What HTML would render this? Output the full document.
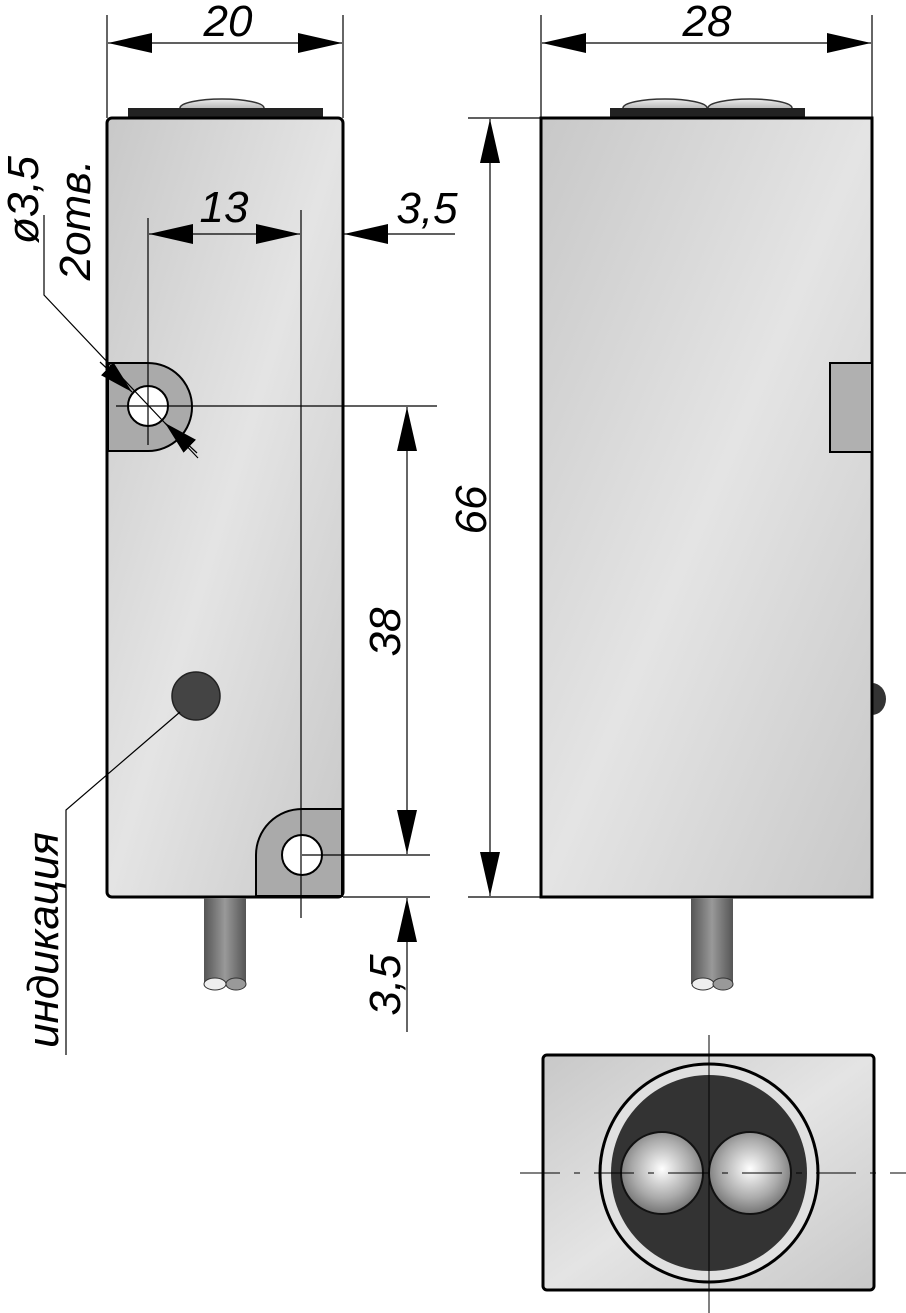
<!DOCTYPE html>
<html><head><meta charset="utf-8"><style>
html,body{margin:0;padding:0;background:#fff;}
svg{display:block}
text{font-family:"Liberation Sans",sans-serif;font-style:italic;fill:#000}
</style></head><body>
<svg width="906" height="1313" viewBox="0 0 906 1313" xmlns="http://www.w3.org/2000/svg">
<defs>
<linearGradient id="bg" x1="0" y1="0" x2="1" y2="1">
<stop offset="0" stop-color="#c8c8c8"/><stop offset="0.5" stop-color="#e4e4e4"/><stop offset="1" stop-color="#c8c8c8"/>
</linearGradient>
<radialGradient id="lens" cx="0.5" cy="0.45" r="0.6">
<stop offset="0" stop-color="#fff"/><stop offset="0.6" stop-color="#aaa"/><stop offset="1" stop-color="#666"/>
</radialGradient>
<linearGradient id="cab" x1="0" x2="1"><stop offset="0" stop-color="#555"/><stop offset="0.5" stop-color="#999"/><stop offset="1" stop-color="#555"/></linearGradient>
<linearGradient id="dome" x1="0" y1="0" x2="0" y2="1"><stop offset="0" stop-color="#eee"/><stop offset="1" stop-color="#888"/></linearGradient>
<marker id="a" viewBox="0 0 44 20" refX="44" refY="10" markerWidth="44" markerHeight="20" markerUnits="userSpaceOnUse" orient="auto-start-reverse"><path d="M0,0 L44,10 L0,20z" fill="#000"/></marker>
<marker id="b" viewBox="0 0 34 18" refX="34" refY="9" markerWidth="34" markerHeight="18" markerUnits="userSpaceOnUse" orient="auto-start-reverse"><path d="M0,0 L34,9 L0,18z" fill="#000"/></marker>
</defs>

<!-- LEFT VIEW -->
<ellipse cx="222" cy="108" rx="42" ry="9" fill="url(#dome)" stroke="#333" stroke-width="1.5"/>
<rect x="128" y="108" width="195" height="10" fill="#222"/>
<rect x="107" y="118" width="236" height="779" rx="5" fill="url(#bg)" stroke="#000" stroke-width="3"/>
<path d="M108,363 H148 A44,44 0 0 1 148,451 H108 Z" fill="#aaa" stroke="#000" stroke-width="2"/>
<circle cx="148" cy="406" r="20" fill="#fff" stroke="#000" stroke-width="2"/>
<path d="M342,809 H302 A46,46 0 0 0 256,855 V896 H342 Z" fill="#aaa" stroke="#000" stroke-width="2"/>
<circle cx="302" cy="855" r="20" fill="#fff" stroke="#000" stroke-width="2"/>
<circle cx="196" cy="696" r="24" fill="#444" stroke="#222" stroke-width="1.5"/>
<rect x="204" y="898" width="42" height="86" fill="url(#cab)"/>
<ellipse cx="215" cy="984" rx="11" ry="6" fill="#eee" stroke="#333"/>
<ellipse cx="236" cy="984" rx="10" ry="6" fill="#999" stroke="#333"/>

<!-- RIGHT VIEW -->
<ellipse cx="665" cy="108" rx="42" ry="9" fill="url(#dome)" stroke="#333" stroke-width="1.5"/>
<ellipse cx="750" cy="108" rx="42" ry="9" fill="url(#dome)" stroke="#333" stroke-width="1.5"/>
<rect x="610" y="108" width="195" height="10" fill="#222"/>
<path d="M872,683 A14,16 0 0 1 872,715 Z" fill="#333"/>
<rect x="541" y="118" width="331" height="779" fill="url(#bg)" stroke="#000" stroke-width="3"/>
<rect x="830" y="363" width="42" height="89" fill="#b0b0b0" stroke="#000" stroke-width="2"/>
<rect x="691" y="898" width="42" height="86" fill="url(#cab)"/>
<ellipse cx="703" cy="984" rx="11" ry="6" fill="#eee" stroke="#333"/>
<ellipse cx="723" cy="984" rx="10" ry="6" fill="#999" stroke="#333"/>

<!-- BOTTOM VIEW -->
<rect x="543" y="1055" width="331" height="235" rx="4" fill="url(#bg)" stroke="#000" stroke-width="3"/>
<circle cx="709" cy="1173" r="109" fill="#e0e0e0" stroke="#000" stroke-width="3"/>
<circle cx="709" cy="1173" r="98" fill="#333"/>
<circle cx="662" cy="1173" r="41" fill="url(#lens)" stroke="#111" stroke-width="2"/>
<circle cx="750" cy="1173" r="41" fill="url(#lens)" stroke="#111" stroke-width="2"/>
<line x1="709" y1="1035" x2="709" y2="1313" stroke="#000" stroke-width="1"/>
<line x1="520" y1="1173" x2="906" y2="1173" stroke="#000" stroke-width="1" stroke-dasharray="40,14,6,14"/>

<!-- DIMENSIONS -->
<g stroke="#000" stroke-width="1.2" fill="none">
<line x1="107" y1="15" x2="107" y2="118"/><line x1="343" y1="15" x2="343" y2="118"/>
<line x1="108" y1="43" x2="342" y2="43" marker-start="url(#a)" marker-end="url(#a)"/>
<line x1="541" y1="15" x2="541" y2="118"/><line x1="872" y1="15" x2="872" y2="118"/>
<line x1="542" y1="43" x2="871" y2="43" marker-start="url(#a)" marker-end="url(#a)"/>
<line x1="148" y1="218" x2="148" y2="445"/><line x1="301" y1="210" x2="301" y2="918"/>
<line x1="149" y1="234" x2="300" y2="234" marker-start="url(#a)" marker-end="url(#a)"/>
<line x1="455" y1="234" x2="344" y2="234" marker-end="url(#a)"/>
<line x1="116" y1="406" x2="437" y2="406"/>
<line x1="407" y1="407" x2="407" y2="854" marker-start="url(#a)" marker-end="url(#a)"/>
<line x1="302" y1="855" x2="430" y2="855"/><line x1="343" y1="897" x2="430" y2="897"/>
<line x1="407" y1="1032" x2="407" y2="898" marker-end="url(#a)"/>
<line x1="468" y1="118" x2="540" y2="118"/><line x1="468" y1="897" x2="540" y2="897"/>
<line x1="490" y1="119" x2="490" y2="896" marker-start="url(#a)" marker-end="url(#a)"/>
<polyline points="44,215 44,295 198,458"/>
<line x1="100" y1="362" x2="132" y2="392" marker-end="url(#b)"/>
<line x1="197" y1="453" x2="165" y2="423" marker-end="url(#b)"/>
<polyline points="66,1055 66,810 180,712"/>
</g>

<!-- TEXT -->
<text x="228" y="36" font-size="44" text-anchor="middle">20</text>
<text x="707" y="36" font-size="44" text-anchor="middle">28</text>
<text x="224" y="222" font-size="44" text-anchor="middle">13</text>
<text x="427" y="223" font-size="44" text-anchor="middle">3,5</text>
<text transform="translate(400,632) rotate(-90)" font-size="44" text-anchor="middle">38</text>
<text transform="translate(400,985) rotate(-90)" font-size="44" text-anchor="middle">3,5</text>
<text transform="translate(486,510) rotate(-90)" font-size="44" text-anchor="middle">66</text>
<text transform="translate(38,200) rotate(-90)" font-size="44" text-anchor="middle">ø3,5</text>
<text transform="translate(90,220) rotate(-90)" font-size="44" text-anchor="middle">2отв.</text>
<text transform="translate(58,940) rotate(-90)" font-size="44" text-anchor="middle" font-family="Liberation Sans, DejaVu Sans, sans-serif">индикация</text>
</svg>
</body></html>
